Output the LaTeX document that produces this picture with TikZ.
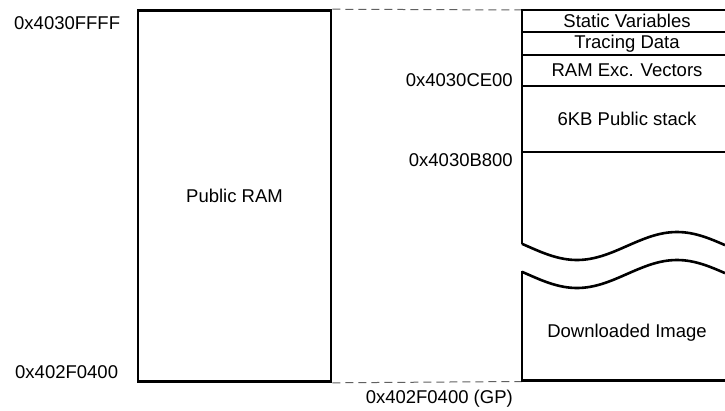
\documentclass[tikz,border=0pt]{standalone}
\usepackage{fontspec}
\setmainfont{Liberation Sans}
\usetikzlibrary{arrows.meta,positioning,calc}

\begin{document}
\begin{tikzpicture}[x=1pt, y=-1pt, line join=miter,
    memline/.style={line width=2.6pt},
    gapline/.style={dashed, gray!75!black, line width=1pt, dash pattern=on 8pt off 5pt},
    addr/.style={font=\fontsize{18.5}{22}\selectfont, inner sep=0pt},
    region/.style={font=\fontsize{18.5}{22}\selectfont, inner sep=0pt}]
    \useasboundingbox (0,0) rectangle (725,410);

    % Left block: whole public RAM
    \node[memline, draw, minimum width=193pt, minimum height=371pt, inner sep=0pt,
          font=\fontsize{18.5}{22}\selectfont] (pubram) at (234.5,196) {Public RAM};
    \node[addr, anchor=west] (addrtop) at (14,23) {0x4030FFFF};
    \node[addr, anchor=west] (addrbot) at (15,372) {0x402F0400};

    % Right block: corners of the zoomed map
    \coordinate (maptop) at (522,10);
    \coordinate (mapbot) at (522,381.5);

    % Dashed guides from the left block to the zoomed map
    \draw[gapline] (pubram.north east) -- (maptop);
    \draw[gapline] (pubram.south east) -- (mapbot);

    % Upper part of the map, open to the right, ends in a wave
    \draw[memline] (725,10) -- (maptop) -- (522,244);
    \draw[memline] plot[domain=522:725, samples=60, smooth] (\x, {246+14*sin((\x-527)*1.8)});
    \foreach \yy in {32,55,86,152}
      \draw[memline] (522,\yy) -- (725,\yy);

    % Lower part of the map, starts with a wave
    \draw[memline] plot[domain=522:725, samples=60, smooth] (\x, {274+14*sin((\x-527)*1.8)});
    \draw[memline] (522,271) -- (522,380.2) -- (725,380.2);

    % Region names
    \node[region] (statvar) at (627,21) {Static Variables};
    \node[region] (tracing) at (627,43.5) {Tracing Data};
    \node[region] (excvec) at (627,70.5) {RAM Exc. Vectors};
    \node[region] (pubstack) at (627,119) {6KB Public stack};
    \node[region] (dlimage) at (627,333) {Downloaded Image};

    % Addresses on the map
    \node[addr, anchor=east] (addrce) at (513,80) {0x4030CE00};
    \node[addr, anchor=east] (addrb8) at (513,160) {0x4030B800};
    \node[addr, anchor=east] (addrgp) at (513,399) {0x402F0400 (GP)};
\end{tikzpicture}
\end{document}
